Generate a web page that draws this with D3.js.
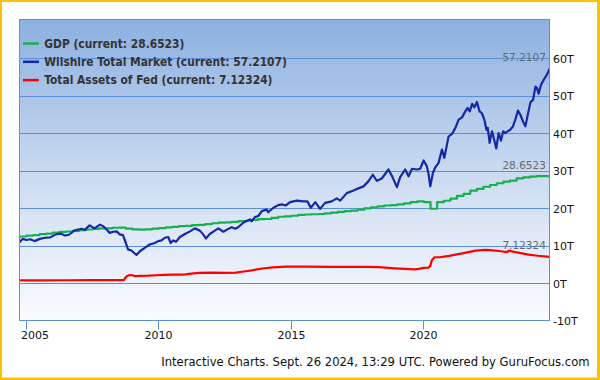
<!DOCTYPE html>
<html><head><meta charset="utf-8">
<script src="https://cdn.jsdelivr.net/npm/d3@7"></script>
<style>html,body{margin:0;padding:0;background:#fff;overflow:hidden}</style>
</head><body>
<svg id="chart" width="600" height="380"></svg>
<script>
// ---- data (decimal years, trillions USD) ----
const seriesNames = ["GDP", "Wilshire Total Market", "Total Assets of Fed"];
const currentLabels = ["28.6523", "57.2107", "7.12324"];

const gdpDates = [2004.5,2004.75,2005,2005.25,2005.5,2005.75,2006,2006.25,2006.5,2006.75,2007,2007.25,2007.5,2007.75,2008,2008.25,2008.5,2008.75,2009,2009.25,2009.5,2009.75,2010,2010.25,2010.5,2010.75,2011,2011.25,2011.5,2011.75,2012,2012.25,2012.5,2012.75,2013,2013.25,2013.5,2013.75,2014,2014.25,2014.5,2014.75,2015,2015.25,2015.5,2015.75,2016,2016.25,2016.5,2016.75,2017,2017.25,2017.5,2017.75,2018,2018.25,2018.5,2018.75,2019,2019.25,2019.5,2019.75,2020,2020.25,2020.5,2020.75,2021,2021.25,2021.5,2021.75,2022,2022.25,2022.5,2022.75,2023,2023.25,2023.5,2023.75,2024,2024.25,2024.74];
const gdpValues = [12.305,12.528,12.767,12.922,13.142,13.324,13.599,13.753,13.871,14.039,14.216,14.402,14.564,14.715,14.707,14.865,14.899,14.609,14.430,14.381,14.449,14.651,14.764,14.981,15.122,15.309,15.351,15.558,15.647,15.842,16.069,16.207,16.320,16.421,16.648,16.728,16.953,17.192,17.198,17.519,17.805,17.912,18.063,18.280,18.406,18.470,18.539,18.712,18.892,19.089,19.280,19.438,19.692,20.037,20.328,20.580,20.798,20.917,21.104,21.385,21.694,21.902,21.707,19.935,21.685,22.068,22.657,23.368,23.922,24.777,25.215,25.805,26.272,26.734,27.164,27.454,28.010,28.297,28.500,28.6523,28.6523];

const wilshireDates = [2004.74,2004.85,2005.0,2005.15,2005.3,2005.5,2005.7,2005.9,2006.1,2006.3,2006.45,2006.6,2006.8,2007.07,2007.2,2007.38,2007.57,2007.77,2007.89,2008.02,2008.14,2008.27,2008.4,2008.52,2008.64,2008.75,2008.83,2008.96,2009.15,2009.28,2009.46,2009.65,2009.84,2009.97,2010.1,2010.22,2010.35,2010.44,2010.54,2010.64,2010.79,2010.98,2011.17,2011.35,2011.54,2011.67,2011.77,2011.92,2012.11,2012.24,2012.43,2012.6,2012.74,2012.88,2012.99,2013.18,2013.43,2013.5,2013.62,2013.75,2013.88,2014.07,2014.12,2014.32,2014.5,2014.63,2014.78,2014.95,2015.2,2015.45,2015.6,2015.73,2015.9,2016.08,2016.27,2016.52,2016.71,2016.84,2017.09,2017.34,2017.5,2017.72,2017.91,2018.07,2018.22,2018.41,2018.66,2018.8,2018.98,2019.1,2019.29,2019.42,2019.55,2019.74,2019.86,2019.99,2020.11,2020.18,2020.24,2020.34,2020.43,2020.55,2020.68,2020.77,2020.93,2021.06,2021.19,2021.31,2021.44,2021.56,2021.65,2021.73,2021.82,2021.9,2022.0,2022.1,2022.19,2022.28,2022.36,2022.41,2022.48,2022.57,2022.63,2022.73,2022.82,2022.91,2022.99,2023.07,2023.16,2023.26,2023.36,2023.45,2023.55,2023.64,2023.74,2023.83,2023.92,2024.02,2024.12,2024.21,2024.27,2024.33,2024.42,2024.52,2024.65,2024.74];
const wilshireValues = [11.0,11.9,11.6,11.8,11.3,11.9,12.2,12.3,13.1,13.3,12.8,13.0,14.1,14.6,14.3,15.5,14.7,15.7,15.3,14.4,13.5,13.8,13.9,13.1,12.9,10.8,9.1,8.8,7.6,8.6,9.5,10.4,10.8,11.3,11.5,12.2,12.4,10.8,11.5,11.1,12.4,13.2,13.9,14.7,14.1,13.1,12.0,13.2,14.1,14.7,13.8,14.5,15.0,14.6,15.0,16.2,17.1,16.6,17.7,18.0,19.3,19.7,19.0,20.2,20.9,21.1,20.8,21.7,22.1,21.9,21.9,20.2,21.7,19.9,21.5,21.9,22.7,22.1,24.1,24.8,25.3,25.9,27.3,29.0,27.4,28.0,30.4,28.6,25.7,28.3,30.4,28.6,30.6,30.4,30.6,32.8,31.3,29.0,25.9,29.5,31.0,32.1,35.7,33.5,39.2,39.9,41.5,43.7,44.3,45.9,46.8,45.9,47.9,47.0,48.4,45.9,45.4,43.7,41.0,41.5,37.5,40.6,39.0,36.0,40.1,38.1,40.6,40.1,40.6,41.0,41.9,43.7,46.1,45.0,43.2,41.9,45.0,48.3,49.0,52.5,52.1,50.6,53.0,54.3,55.8,57.2107];

const fedDates = [2004.74,2005.5,2006.5,2007.5,2008.2,2008.68,2008.73,2008.8,2008.9,2009.0,2009.1,2009.3,2009.6,2009.9,2010.2,2010.5,2010.85,2011.0,2011.3,2011.5,2012.0,2012.5,2012.9,2013.2,2013.5,2013.9,2014.3,2014.8,2015.5,2016.5,2017.5,2017.9,2018.3,2018.9,2019.3,2019.65,2019.8,2020.0,2020.17,2020.24,2020.3,2020.4,2020.6,2020.95,2021.5,2021.95,2022.3,2022.5,2022.9,2023.15,2023.2,2023.4,2023.7,2023.95,2024.3,2024.74];
const fedValues = [0.82,0.85,0.87,0.89,0.90,0.92,1.5,2.0,2.25,2.2,1.95,2.05,2.1,2.2,2.3,2.35,2.35,2.45,2.7,2.85,2.9,2.85,2.9,3.2,3.5,4.0,4.3,4.5,4.5,4.45,4.45,4.45,4.35,4.05,3.9,3.76,3.9,4.15,4.25,4.7,6.2,7.0,7.0,7.35,8.1,8.75,8.95,8.9,8.6,8.35,8.75,8.45,8.05,7.7,7.4,7.12324];

const yTickValues = [-10,0,10,20,30,40,50,60];
const xTickValues = [2005,2010,2015,2020];
const footerText = "Interactive Charts. Sept. 26 2024, 13:29 UTC. Powered by GuruFocus.com";
const colors = ["#16b04f", "#1429a6", "#ff0000"];

// ---- layout ----
const svg = d3.select("#chart");
const L = 19.5, R = 549.5, T = 19.5, B = 320.5;
const x = d3.scaleLinear().domain([2004.735, 2024.74]).range([L, R]);
const y = d3.scaleLinear().domain([-10, 70]).range([321, 21]);

// outer border
svg.append("rect").attr("x",0).attr("y",0).attr("width",600).attr("height",380).attr("fill","#ffc000");
svg.append("rect").attr("x",2).attr("y",2).attr("width",595).attr("height",375.5).attr("fill","#fff");

// plot background gradient
const defs = svg.append("defs");
const grad = defs.append("linearGradient").attr("id","bg").attr("x1",0).attr("y1",0).attr("x2",0).attr("y2",1);
grad.append("stop").attr("offset","0%").attr("stop-color","#8cb0e0");
grad.append("stop").attr("offset","55%").attr("stop-color","#cfddf2");
grad.append("stop").attr("offset","100%").attr("stop-color","#fafbff");
defs.append("clipPath").attr("id","clip").append("rect")
  .attr("x",L).attr("y",T).attr("width",R-L).attr("height",B-T);

svg.append("rect").attr("x",L).attr("y",T).attr("width",R-L).attr("height",B-T).attr("fill","url(#bg)");

// gridlines
svg.append("g").selectAll("line").data(yTickValues.filter(d=>d>-10)).join("line")
  .attr("x1",L).attr("x2",R)
  .attr("y1",d=>Math.floor(y(d))+0.5).attr("y2",d=>Math.floor(y(d))+0.5)
  .attr("stroke","#5b8fd8").attr("stroke-width",1);

// series lines
const line = d3.line().x(d=>x(d[0])).y(d=>y(d[1]));
const gPlot = svg.append("g").attr("clip-path","url(#clip)");
const seriesData = [
  d3.zip(gdpDates, gdpValues),
  d3.zip(wilshireDates, wilshireValues),
  d3.zip(fedDates, fedValues)
];
seriesData.forEach((data, i) => {
  const ln = i === 0 ? d3.line().curve(d3.curveStepAfter).x(d=>x(d[0])).y(d=>y(d[1])) : line;
  gPlot.append("path").datum(data).attr("d", ln)
    .attr("fill","none").attr("stroke",colors[i]).attr("stroke-width",2.2)
    .attr("stroke-linejoin","round").attr("stroke-linecap","round");
});

// plot border
svg.append("rect").attr("x",L).attr("y",T).attr("width",R-L).attr("height",B-T)
  .attr("fill","none").attr("stroke","#5b8fd8").attr("stroke-width",1);

// current value labels
const lastVals = seriesData.map(d => d[d.length-1][1]);
const valLabels = svg.append("g").selectAll("text").data(currentLabels).join("text")
  .attr("x",546).attr("y",(d,i)=>y(lastVals[i]) - 7.5)
  .attr("text-anchor","end").attr("fill","#6a6a6a")
  .attr("font-family","'DejaVu Sans', sans-serif").attr("font-size",12)
  .text(d=>d);
{
  const n = valLabels.filter((d,i)=>i===1).node();
  const w = n.getComputedTextLength();
  valLabels.attr("font-size", 12*43.7/w);
}

// right axis
const yAxis = d3.axisRight(y).tickValues(yTickValues).tickFormat(d=>d+"T").tickSize(0).tickPadding(4);
const gy = svg.append("g").attr("transform",`translate(${R-0.5},0)`).call(yAxis);
gy.select(".domain").remove();
gy.selectAll("text").attr("font-family","'DejaVu Sans', sans-serif").attr("font-size",11).attr("fill","#111");

// bottom axis
const xAxis = d3.axisBottom(x).tickValues(xTickValues).tickFormat(d3.format("d")).tickSize(9).tickPadding(2);
const gx = svg.append("g").attr("transform",`translate(0,${B})`).call(xAxis);
gx.select(".domain").remove();
gx.selectAll("line").attr("stroke","#5b8fd8");
gx.selectAll("text").attr("font-family","'DejaVu Sans', sans-serif").attr("font-size",11).attr("fill","#111");
gx.selectAll(".tick").filter(d=>d===2005).select("text").attr("text-anchor","start").attr("x", 20.5 - x(2005) + 0.5);
gx.selectAll(".tick").each(function(d){ d3.select(this).attr("transform",`translate(${Math.floor(x(d))+0.5},0)`); });

// legend
const legendY = [43.5, 61.8, 80.1];
const lg = svg.append("g");
seriesNames.forEach((name,i)=>{
  lg.append("line").attr("x1",23).attr("x2",39).attr("y1",legendY[i]).attr("y2",legendY[i])
    .attr("stroke",colors[i]).attr("stroke-width",2.5);
});
const legTexts = lg.selectAll("text").data(seriesNames).join("text")
  .attr("x",44.3).attr("y",(d,i)=>legendY[i]+4)
  .attr("font-family","'DejaVu Sans Condensed', 'DejaVu Sans', sans-serif")
  .attr("font-weight","bold").attr("font-size",12).attr("fill","#333")
  .text((d,i)=>`${d} (current: ${currentLabels[i]})`);
{
  const w = legTexts.filter((d,i)=>i===1).node().getComputedTextLength();
  legTexts.attr("font-size", 12*243/w);
}

// footer
const ft = svg.append("text").attr("x",589.5).attr("y",365.5).attr("text-anchor","end")
  .attr("font-family","'DejaVu Sans Condensed', 'DejaVu Sans', sans-serif")
  .attr("font-size",13).attr("fill","#111").text(footerText);
{
  const w = ft.node().getComputedTextLength();
  ft.attr("font-size", 13*428.5/w);
}
</script>
</body></html>
